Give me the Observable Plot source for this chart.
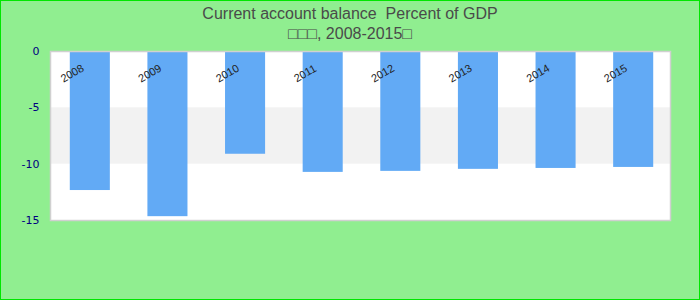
<!DOCTYPE html>
<html>
<head>
<meta charset="utf-8">
<script src="https://cdn.jsdelivr.net/npm/d3@7"></script>
<script src="https://cdn.jsdelivr.net/npm/@observablehq/plot@0.6"></script>
<style>
  html, body { margin: 0; padding: 0; background: #fff; }
  #wrap { position: relative; width: 700px; height: 300px; box-sizing: border-box;
          border: 1px solid #00e600; background: #90ee90; overflow: hidden; }
  #title { position: absolute; left: 0; top: 3px; width: 698px; text-align: center;
           font-family: "Liberation Sans", Arial, sans-serif; font-size: 16px; line-height: 20px;
           color: #4a4a4a; white-space: pre; z-index: 2; }
  #chart { position: absolute; left: 0; top: 0; }
</style>
</head>
<body>
<div id="wrap">
  <div id="title">Current account balance  Percent of GDP
□□□, 2008-2015□</div>
  <div id="chart"></div>
</div>
<script>
const years = ["2008", "2009", "2010", "2011", "2012", "2013", "2014", "2015"];
const values = [-12.34, -14.66, -9.12, -10.73, -10.64, -10.46, -10.38, -10.29];
const yTicks = [0, -5, -10, -15];
const bandLow = [-10];
const bandHigh = [-5];

const data = years.map((y, i) => ({year: y, value: values[i]}));
const bands = bandLow.map((l, i) => ({y1: l, y2: bandHigh[i]}));

const chart = Plot.plot({
  width: 698,
  height: 298,
  marginLeft: 49,
  marginRight: 29,
  marginTop: 50,
  marginBottom: 79,
  style: {background: "transparent", overflow: "visible"},
  x: {domain: years, axis: null, range: [50, 671], round: false, paddingInner: 0.484, paddingOuter: 0.242},
  y: {domain: [-15, 0], ticks: yTicks, tickSize: 0, tickPadding: 11, label: null,
      tickFormat: d => String(d)},
  marks: [
    Plot.frame({fill: "white", stroke: "none"}),
    Plot.rectY(bands, {y1: "y1", y2: "y2", fill: "#f2f2f2"}),
    Plot.barY(data, {x: "year", y: "value", fill: "#62aaf5"}),
    Plot.frame({stroke: "#d0d0d0", strokeWidth: 1.5}),
    Plot.text(data, {x: "year", y: () => 0, text: "year", rotate: -30, dx: -18, dy: 22,
      fill: "#222", fontSize: 11, fontFamily: "Liberation Sans, Arial, sans-serif"}),
    Plot.axisY({ticks: yTicks, tickSize: 0, tickPadding: 11, label: null,
      fill: "#000080", fontSize: 11, fontFamily: "DejaVu Sans, sans-serif", tickFormat: d => String(d)})
  ]
});
document.getElementById("chart").appendChild(chart);
</script>
</body>
</html>
